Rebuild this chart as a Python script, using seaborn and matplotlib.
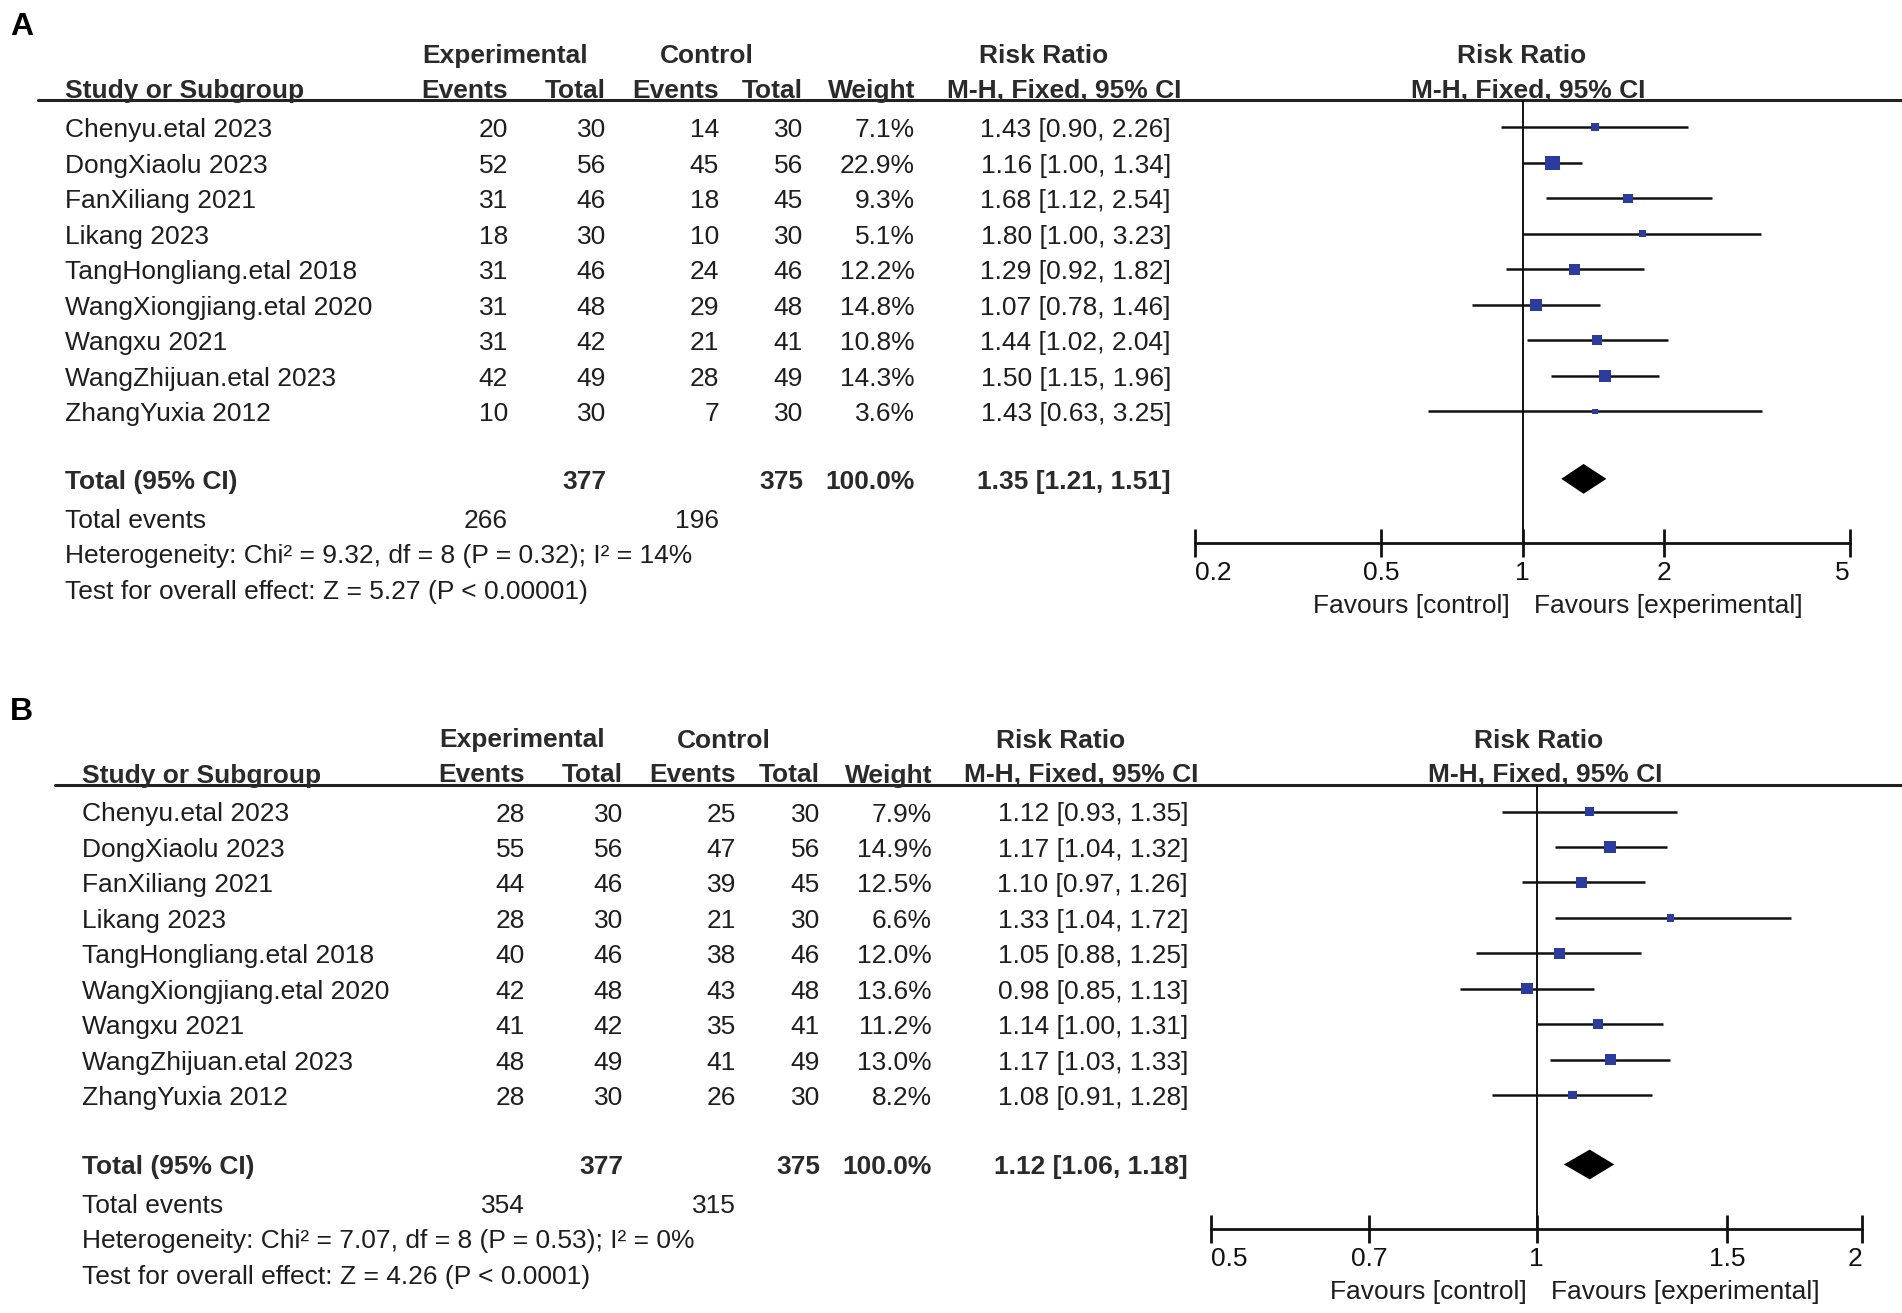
import matplotlib
matplotlib.use("Agg")
import matplotlib.pyplot as plt
import seaborn as sns
from matplotlib.ticker import NullLocator

W, H = 1902, 1313

# Data
studies = ["Chenyu.etal 2023", "DongXiaolu 2023", "FanXiliang 2021", "Likang 2023",
           "TangHongliang.etal 2018", "WangXiongjiang.etal 2020", "Wangxu 2021",
           "WangZhijuan.etal 2023", "ZhangYuxia 2012"]

# panel A
a_exp_events = [20, 52, 31, 18, 31, 31, 31, 42, 10]
a_exp_total = [30, 56, 46, 30, 46, 48, 42, 49, 30]
a_ctl_events = [14, 45, 18, 10, 24, 29, 21, 28, 7]
a_ctl_total = [30, 56, 45, 30, 46, 48, 41, 49, 30]
a_weight = [7.1, 22.9, 9.3, 5.1, 12.2, 14.8, 10.8, 14.3, 3.6]
a_rr = [1.43, 1.16, 1.68, 1.80, 1.29, 1.07, 1.44, 1.50, 1.43]
a_lo = [0.90, 1.00, 1.12, 1.00, 0.92, 0.78, 1.02, 1.15, 0.63]
a_hi = [2.26, 1.34, 2.54, 3.23, 1.82, 1.46, 2.04, 1.96, 3.25]
a_totals = [377, 375]
a_total_events = [266, 196]
a_pooled = [1.35, 1.21, 1.51]
a_het = "Heterogeneity: Chi² = 9.32, df = 8 (P = 0.32); I² = 14%"
a_test = "Test for overall effect: Z = 5.27 (P < 0.00001)"
a_ticks = [0.2, 0.5, 1, 2, 5]
a_ticklabels = ["0.2", "0.5", "1", "2", "5"]

# panel B
b_exp_events = [28, 55, 44, 28, 40, 42, 41, 48, 28]
b_exp_total = [30, 56, 46, 30, 46, 48, 42, 49, 30]
b_ctl_events = [25, 47, 39, 21, 38, 43, 35, 41, 26]
b_ctl_total = [30, 56, 45, 30, 46, 48, 41, 49, 30]
b_weight = [7.9, 14.9, 12.5, 6.6, 12.0, 13.6, 11.2, 13.0, 8.2]
b_rr = [1.12, 1.17, 1.10, 1.33, 1.05, 0.98, 1.14, 1.17, 1.08]
b_lo = [0.93, 1.04, 0.97, 1.04, 0.88, 0.85, 1.00, 1.03, 0.91]
b_hi = [1.35, 1.32, 1.26, 1.72, 1.25, 1.13, 1.31, 1.33, 1.28]
b_totals = [377, 375]
b_total_events = [354, 315]
b_pooled = [1.12, 1.06, 1.18]
b_het = "Heterogeneity: Chi² = 7.07, df = 8 (P = 0.53); I² = 0%"
b_test = "Test for overall effect: Z = 4.26 (P < 0.0001)"
b_ticks = [0.5, 0.7, 1, 1.5, 2]
b_ticklabels = ["0.5", "0.7", "1", "1.5", "2"]

sns.set_theme(style="white")
plt.rcParams["font.family"] = ["Liberation Sans", "DejaVu Sans"]

FS = 19
TXT = "#1e1e1e"
HDR = "#2a2a2a"
BLUE = "#2b3c9e"

fig = plt.figure(figsize=(W / 100, H / 100), dpi=100)
bg = fig.add_axes([0, 0, 1, 1])
bg.set_xlim(0, W)
bg.set_ylim(H, 0)
bg.axis("off")


def txt(x, y, s, ha="left", bold=False, size=FS):
    # small downward nudge: va="center" counts the descender
    bg.text(x, y + 3, s, ha=ha, va="center", fontsize=size, color=HDR if bold else TXT,
            fontweight="bold" if bold else "normal")


def panel(label, lay, exp_ev, exp_tot, ctl_ev, ctl_tot, weight, rr, lo, hi,
          totals, tot_events, pooled, het, test, ticks, ticklabels):
    dx = lay["dx"]
    y0 = lay["y0"]
    rh = lay["rh"]
    bg.text(10, y0 - 100, label, ha="left", va="center", fontsize=23,
            fontweight="bold", color="black")

    # column anchors
    c_study = 65 + dx
    c_ee = 508 + dx
    c_et = 606 + dx
    c_ce = 719 + dx
    c_ct = 803 + dx
    c_w = 915 + dx
    c_rr = 1171 + dx

    h1 = y0 - 74
    h2 = y0 - 39
    txt(505 + dx, h1, "Experimental", ha="center", bold=True)
    txt(707 + dx, h1, "Control", ha="center", bold=True)
    txt(1044 + dx, h1, "Risk Ratio", ha="center", bold=True)
    txt(lay["x1"], h1, "Risk Ratio", ha="center", bold=True)
    txt(c_study, h2, "Study or Subgroup", bold=True)
    txt(c_ee, h2, "Events", ha="right", bold=True)
    txt(c_et, h2, "Total", ha="right", bold=True)
    txt(c_ce, h2, "Events", ha="right", bold=True)
    txt(c_ct, h2, "Total", ha="right", bold=True)
    txt(c_w, h2, "Weight", ha="right", bold=True)
    txt(1064 + dx, h2, "M-H, Fixed, 95% CI", ha="center", bold=True)
    txt(lay["x1"] + 6, h2, "M-H, Fixed, 95% CI", ha="center", bold=True)
    line_y = y0 - 27
    bg.plot([38 + dx, W], [line_y, line_y], color="#222222", lw=2.2)

    for i, name in enumerate(studies):
        y = y0 + i * rh
        txt(c_study, y, name)
        txt(c_ee, y, str(exp_ev[i]), ha="right")
        txt(c_et, y, str(exp_tot[i]), ha="right")
        txt(c_ce, y, str(ctl_ev[i]), ha="right")
        txt(c_ct, y, str(ctl_tot[i]), ha="right")
        txt(c_w, y, f"{weight[i]:.1f}%", ha="right")
        txt(c_rr, y, f"{rr[i]:.2f} [{lo[i]:.2f}, {hi[i]:.2f}]", ha="right")

    t_idx = lay["t_idx"]
    yt = y0 + t_idx * rh
    txt(c_study, yt, "Total (95% CI)", bold=True)
    txt(c_et, yt, str(totals[0]), ha="right", bold=True)
    txt(c_ct, yt, str(totals[1]), ha="right", bold=True)
    txt(c_w, yt, "100.0%", ha="right", bold=True)
    txt(c_rr, yt, f"{pooled[0]:.2f} [{pooled[1]:.2f}, {pooled[2]:.2f}]", ha="right", bold=True)
    txt(c_study, yt + 39, "Total events")
    txt(c_ee, yt + 39, str(tot_events[0]), ha="right")
    txt(c_ce, yt + 39, str(tot_events[1]), ha="right")
    txt(c_study, yt + 74, het)
    txt(c_study, yt + 110, test)

    # forest axes (pixel box -> figure fraction)
    xl, xr, ax_y = lay["xl"], lay["xr"], lay["axis_y"]
    ax = fig.add_axes([xl / W, 1 - ax_y / H, (xr - xl) / W, (ax_y - line_y) / H])
    ax.set_facecolor("none")
    ax.set_xscale("log")
    ax.set_xlim(ticks[0], ticks[-1])
    ax.set_ylim((ax_y - y0) / rh, (line_y - y0) / rh)
    for s in ["top", "left", "right"]:
        ax.spines[s].set_visible(False)
    ax.spines["bottom"].set_color("#111111")
    ax.spines["bottom"].set_linewidth(2)
    ax.axvline(1, color="#111111", lw=1.4)

    rows = list(range(len(studies)))
    ax.hlines(rows, lo, hi, color="#111111", lw=1.8)
    sns.scatterplot(x=rr, y=rows, size=weight, sizes=(4.8 * min(weight), 4.8 * max(weight)),
                    size_norm=(min(weight), max(weight)), marker="s", color=BLUE,
                    linewidth=0, legend=False, ax=ax, zorder=3)
    hh = 0.42
    ax.fill([pooled[1], pooled[0], pooled[2], pooled[0]],
            [t_idx, t_idx - hh, t_idx, t_idx + hh], color="black", lw=0)

    ax.set_xticks(ticks)
    ax.set_xticklabels(ticklabels)
    ax.xaxis.set_minor_locator(NullLocator())
    ax.set_yticks([])
    ax.set_xlabel("")
    ax.set_ylabel("")
    ax.tick_params(axis="x", direction="inout", length=20, width=2, pad=3,
                   labelsize=FS, colors="#111111", bottom=True)
    labs = ax.get_xticklabels()
    labs[0].set_ha("left")
    labs[-1].set_ha("right")

    txt(lay["x1"] - 12, ax_y + 60, "Favours [control]", ha="right")
    txt(lay["x1"] + 12, ax_y + 60, "Favours [experimental]", ha="left")


lay_a = dict(dx=0, y0=127.4, rh=35.5, t_idx=9.9, xl=1195, xr=1850, axis_y=543, x1=1522)
lay_b = dict(dx=17, y0=811.5, rh=35.44, t_idx=9.96, xl=1211, xr=1862, axis_y=1229, x1=1539)

panel("A", lay_a, a_exp_events, a_exp_total, a_ctl_events, a_ctl_total, a_weight,
      a_rr, a_lo, a_hi, a_totals, a_total_events, a_pooled, a_het, a_test,
      a_ticks, a_ticklabels)
panel("B", lay_b, b_exp_events, b_exp_total, b_ctl_events, b_ctl_total, b_weight,
      b_rr, b_lo, b_hi, b_totals, b_total_events, b_pooled, b_het, b_test,
      b_ticks, b_ticklabels)

fig.savefig("out.png", dpi=100, facecolor="white")
